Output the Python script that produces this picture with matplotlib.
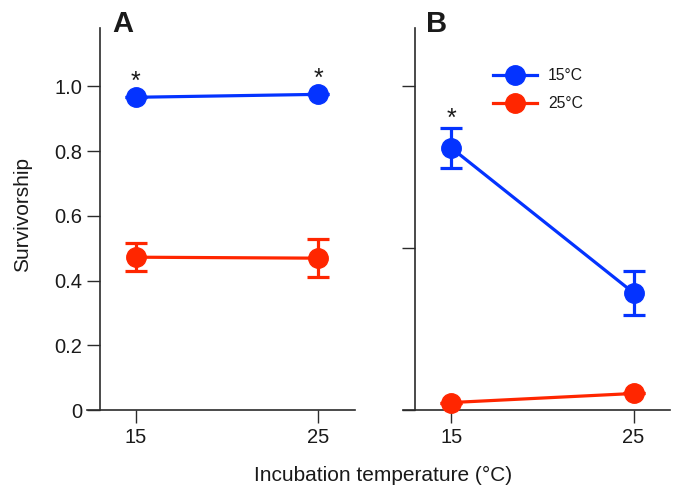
import matplotlib
matplotlib.use("Agg")
import matplotlib.pyplot as plt
from matplotlib.lines import Line2D

plt.rcParams['font.family'] = ['Liberation Sans', 'DejaVu Sans']

x_vals = [15, 25]
xtick_labels = ['15', '25']

# Panel A
a_15_mean = [0.966, 0.975]
a_15_err = [0.0, 0.0]
a_25_mean = [0.472, 0.469]
a_25_err = [0.043, 0.059]

# Panel B
b_15_mean = [0.810, 0.362]
b_15_err = [0.062, 0.067]
b_25_mean = [0.023, 0.051]
b_25_err = [0.0, 0.0]

series_labels = ['15°C', '25°C']
blue = '#0433FF'
red = '#FF2600'
spine_col = '#2b2b2b'
txt_col = '#1a1a1a'

fig = plt.figure(figsize=(6.75, 4.87), dpi=100)
axA = fig.add_axes([87/675, 1-410/487, 268/675, (410-28)/487])
axB = fig.add_axes([403/675, 1-410/487, 267/675, (410-28)/487])

def style(ax, xl, yticks, ylabels):
    ax.set_xlim(*xl)
    ax.set_ylim(0, 1.18)
    for s in ['top', 'right']:
        ax.spines[s].set_visible(False)
    ax.spines['left'].set_position(('data', 13.02))
    for s in ['left', 'bottom']:
        ax.spines[s].set_color(spine_col)
        ax.spines[s].set_linewidth(1.2)
    ax.set_xticks(x_vals)
    ax.set_xticklabels(xtick_labels)
    ax.set_yticks(yticks)
    ax.set_yticklabels(ylabels)
    ax.tick_params(direction='out', length=9.4, width=1.0, color=spine_col,
                   labelsize=14.5, pad=3.5, labelcolor=txt_col)
    ax.patch.set_alpha(0)

style(axA, (12.31, 27.03), [0, 0.2, 0.4, 0.6, 0.8, 1.0], ['0', '0.2', '0.4', '0.6', '0.8', '1.0'])
style(axB, (12.36, 27.0), [0, 0.5, 1.0], ['', '', ''])

kw = dict(marker='o', markersize=14, linewidth=2.3, capsize=8, capthick=2.3, elinewidth=2.3, clip_on=False, zorder=3)
axA.errorbar(x_vals, a_15_mean, yerr=a_15_err, color=blue, **kw)
axA.errorbar(x_vals, a_25_mean, yerr=a_25_err, color=red, **kw)
axB.errorbar(x_vals, b_15_mean, yerr=b_15_err, color=blue, **kw)
axB.errorbar(x_vals, b_25_mean, yerr=b_25_err, color=red, **kw)

# significance asterisks
star_kw = dict(ha='center', va='center', fontsize=18, color=txt_col)
axA.text(15, 1.013, '*', **star_kw)
axA.text(25, 1.023, '*', **star_kw)
axB.text(15, 0.898, '*', **star_kw)

# panel letters
fig.text(123/675, 1-24/487, 'A', fontsize=21, fontweight='bold', ha='center', va='center', color=txt_col)
fig.text(437/675, 1-24/487, 'B', fontsize=21, fontweight='bold', ha='center', va='center', color=txt_col)

handles = [Line2D([], [], color=blue, marker='o', markersize=14, linewidth=2.3),
           Line2D([], [], color=red, marker='o', markersize=14, linewidth=2.3)]
axB.legend(handles, series_labels, loc='upper left', bbox_to_anchor=(0.285, 0.932), frameon=False,
           fontsize=11.3, handlelength=2.8, labelspacing=0.85, handletextpad=0.7, labelcolor=txt_col)

fig.text(23/675, 1-215/487, 'Survivorship', rotation=90, ha='center', va='center', fontsize=15, color=txt_col)
fig.text(383/675, 1-475/487, 'Incubation temperature (°C)', ha='center', va='center', fontsize=15, color=txt_col)

fig.savefig('out.png', dpi=100)
